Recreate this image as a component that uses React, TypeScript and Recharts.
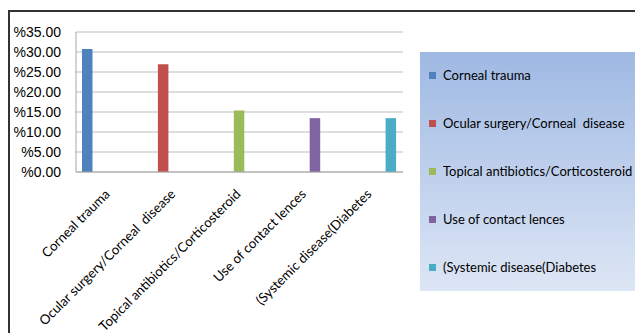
import React from 'react';
import { BarChart, Bar, XAxis, YAxis, CartesianGrid } from 'recharts';

const categories = [
  'Corneal trauma',
  'Ocular surgery/Corneal  disease',
  'Topical antibiotics/Corticosteroid',
  'Use of contact lences',
  '(Systemic disease(Diabetes',
];
const values = [30.77, 26.92, 15.38, 13.46, 13.46];
const colors = ['#4f81bd', '#c0504d', '#9bbb59', '#8064a2', '#4bacc6'];
const yTicks = [0, 5, 10, 15, 20, 25, 30, 35];

const seriesKeys = categories.map((_, i) => `s${i}`);
const data = categories.map((name, i) => {
  const row: Record<string, any> = { name };
  seriesKeys.forEach((k, j) => {
    row[k] = i === j ? values[i] : null;
  });
  return row;
});

const LABEL_FONT = 'Lato, "Liberation Sans", sans-serif';

const XTick = (props: any) => {
  const { x, y, payload } = props;
  const ax = x + 2;
  const ay = y + 23;
  return (
    <text
      x={ax}
      y={ay}
      transform={`rotate(-45, ${ax}, ${ay})`}
      textAnchor="end"
      fontFamily={LABEL_FONT}
      fontSize={13.3}
      fill="#000"
      style={{ whiteSpace: 'pre' }}
    >
      {payload.value}
    </text>
  );
};

const LegendBox = () => (
  <div
    style={{
      position: 'absolute',
      left: 412,
      top: 44,
      width: 221,
      height: 239,
      background: 'linear-gradient(to bottom, #9fb9e3, #dde6f5)',
      fontFamily: LABEL_FONT,
      fontSize: 13,
      color: '#000',
    }}
  >
    {categories.map((c, i) => (
      <div
        key={c}
        style={{
          position: 'absolute',
          left: 9,
          top: 23 + i * 48 - 9,
          height: 18,
          display: 'flex',
          alignItems: 'center',
          whiteSpace: 'pre',
        }}
      >
        <span
          style={{
            display: 'inline-block',
            width: 7,
            height: 7,
            background: colors[i],
            marginRight: 7,
          }}
        />
        <span>{c}</span>
      </div>
    ))}
  </div>
);

export default function App() {
  return (
    <div style={{ position: 'relative', width: 635, height: 325, overflow: 'hidden', background: '#fff' }}>
      <div
        style={{
          position: 'absolute',
          left: 0,
          top: 2,
          width: 700,
          height: 400,
          borderLeft: '2px solid #333',
          borderTop: '2px solid #333',
          boxSizing: 'border-box',
        }}
      />
      <div style={{ position: 'absolute', left: 0, top: 0 }}>
        <BarChart
          width={635}
          height={325}
          data={data}
          margin={{ top: 24, right: 240, left: 0, bottom: 0 }}
          barSize={10.5}
          barGap={0}
        >
          <CartesianGrid vertical={false} stroke="#bdbdbd" />
          <XAxis
            dataKey="name"
            height={161}
            interval={0}
            tickLine={false}
            tickSize={0}
            tickMargin={0}
            axisLine={{ stroke: '#a6a6a6' }}
            tick={<XTick />}
          />
          <YAxis
            width={68}
            domain={[0, 35]}
            ticks={yTicks}
            interval={0}
            tickLine={false}
            tickSize={0}
            tickMargin={15}
            axisLine={{ stroke: '#a6a6a6' }}
            tickFormatter={(v: number) => `%${v.toFixed(2)}`}
            tick={{ fill: '#000', fontSize: 14, fontFamily: '"Liberation Sans", Arial, sans-serif' }}
          />
          {seriesKeys.map((k, i) => (
            <Bar key={k} dataKey={k} fill={colors[i]} isAnimationActive={false} />
          ))}
        </BarChart>
      </div>
      <LegendBox />
    </div>
  );
}
